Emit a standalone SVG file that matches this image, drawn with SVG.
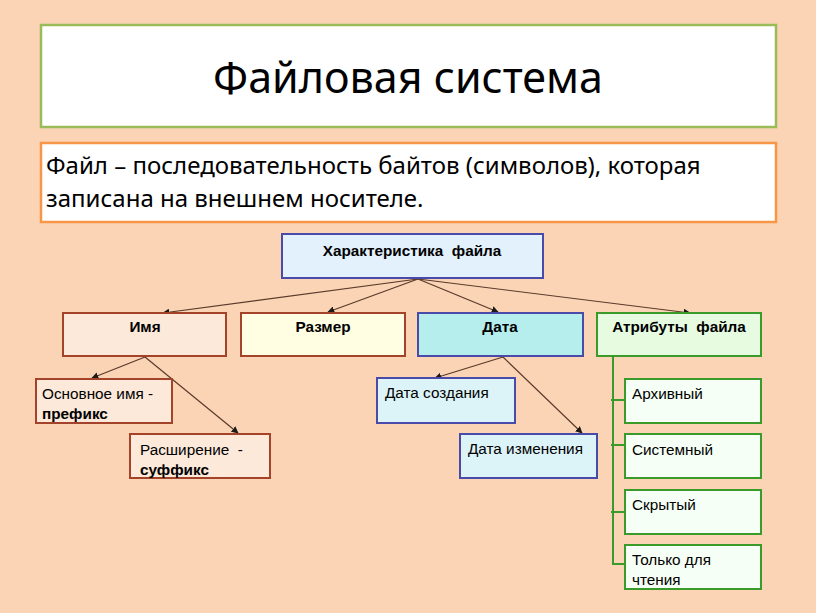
<svg xmlns="http://www.w3.org/2000/svg" width="816" height="613" viewBox="0 0 816 613">
<defs>
<marker id="ah" viewBox="0 0 10 10" refX="9" refY="5" markerWidth="7" markerHeight="7" orient="auto-start-reverse" markerUnits="userSpaceOnUse">
<path d="M0,0 L10,5 L0,10 z" fill="#1a1a1a"/>
</marker>
<style>
.t{font-family:"Noto Sans","Open Sans",sans-serif;fill:#000}
.a{font-family:"Liberation Sans",Arial,sans-serif;fill:#000;font-size:15.3px;white-space:pre}
.b{font-weight:bold}
.con{stroke:#5a3a2a;stroke-width:1.2;fill:none;marker-end:url(#ah)}
.br{stroke:#a2432a;stroke-width:2}
.bl{stroke:#4a4aa8;stroke-width:2}
.gr{stroke:#3a9a2a;stroke-width:2}
</style>
</defs>
<rect width="816" height="613" fill="#fad4b5"/>
<g id="title">
<rect x="41" y="25" width="735" height="102" fill="#fff" stroke="#9bbb59" stroke-width="2.5"/>
<text class="t" x="408" y="93" font-size="43" text-anchor="middle">Файловая система</text>
</g>
<g id="definition">
<rect x="41" y="143" width="735" height="79" fill="#fff" stroke="#f79646" stroke-width="2.5"/>
<text class="t" x="46" y="174" font-size="24">Файл – последовательность байтов (символов), которая</text>
<text class="t" x="46" y="207" font-size="24">записана на внешнем носителе.</text>
</g>
<g id="connectors">
<line class="con" x1="418" y1="279" x2="163" y2="313"/>
<line class="con" x1="418" y1="279" x2="328" y2="312"/>
<line class="con" x1="418" y1="279" x2="498" y2="312"/>
<line class="con" x1="418" y1="279" x2="690" y2="313"/>
<line class="con" x1="145" y1="357" x2="92" y2="378"/>
<line class="con" x1="145" y1="357" x2="238" y2="433"/>
<line class="con" x1="503" y1="357" x2="435" y2="378"/>
<line class="con" x1="503" y1="357" x2="582" y2="433"/>
<path d="M613,356 V564 H625 M611,400 H625 M611,445 H625 M611,512 H625" fill="none" stroke="#3a9a2a" stroke-width="2"/>
</g>
<g id="char">
<rect class="bl" x="282" y="234" width="261" height="44" fill="#e3f1fd"/>
<text class="a b" x="412" y="256" text-anchor="middle" font-size="15.5">Характеристика  файла</text>
</g>
<g id="name">
<rect class="br" x="63" y="313" width="163" height="43" fill="#fce9da"/>
<text class="a b" x="145" y="332" text-anchor="middle">Имя</text>
</g>
<g id="size">
<rect class="br" x="241" y="313" width="164" height="43" fill="#fffde2"/>
<text class="a b" x="323" y="332" text-anchor="middle">Размер</text>
</g>
<g id="date">
<rect class="bl" x="418" y="313" width="165" height="43" fill="#b5eeec"/>
<text class="a b" x="500" y="332" text-anchor="middle">Дата</text>
</g>
<g id="attrs">
<rect class="gr" x="597" y="313" width="164" height="43" fill="#e6fbe0"/>
<text class="a b" x="679" y="332" text-anchor="middle">Атрибуты  файла</text>
</g>
<g id="basename">
<rect class="br" x="36" y="379" width="136" height="44" fill="#fce9da"/>
<text class="a" x="42" y="399">Основное имя -</text>
<text class="a b" x="42" y="419">префикс</text>
</g>
<g id="ext">
<rect class="br" x="130" y="434" width="140" height="44" fill="#fce9da"/>
<text class="a" x="140" y="455">Расширение  -</text>
<text class="a b" x="140" y="475">суффикс</text>
</g>
<g id="created">
<rect class="bl" x="377" y="378" width="138" height="45" fill="#dcf4f8"/>
<text class="a" x="385" y="398">Дата создания</text>
</g>
<g id="modified">
<rect class="bl" x="460" y="434" width="137" height="44" fill="#dcf4f8"/>
<text class="a" x="468" y="454">Дата изменения</text>
</g>
<g id="archive">
<rect class="gr" x="625" y="379" width="136" height="44" fill="#f6fff5"/>
<text class="a" x="632" y="399">Архивный</text>
</g>
<g id="system">
<rect class="gr" x="625" y="434" width="136" height="44" fill="#f6fff5"/>
<text class="a" x="632" y="455">Системный</text>
</g>
<g id="hidden">
<rect class="gr" x="625" y="490" width="136" height="44" fill="#f6fff5"/>
<text class="a" x="632" y="510">Скрытый</text>
</g>
<g id="readonly">
<rect class="gr" x="625" y="545" width="136" height="44" fill="#f6fff5"/>
<text class="a" x="632" y="565">Только для</text>
<text class="a" x="632" y="585">чтения</text>
</g>
</svg>
